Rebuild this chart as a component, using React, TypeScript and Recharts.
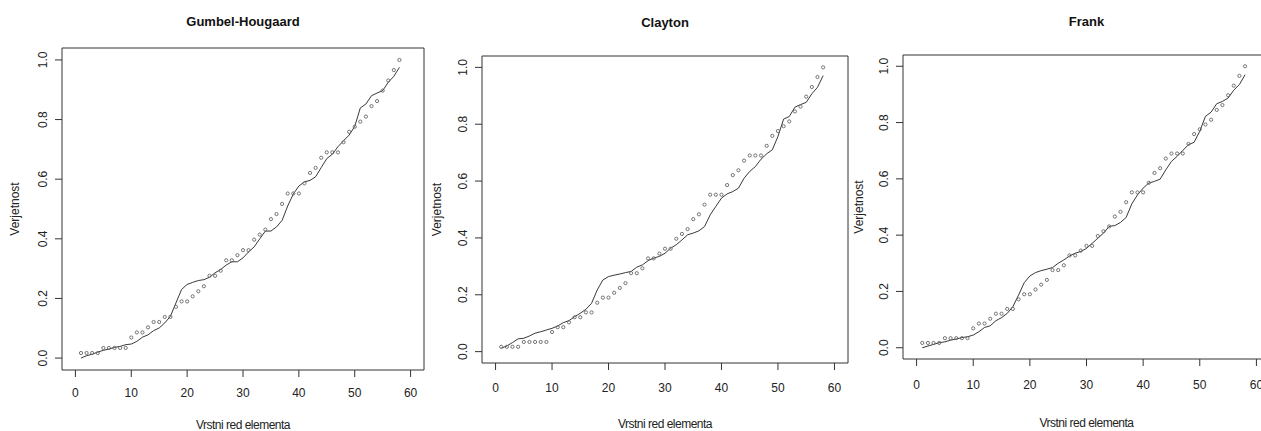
import React from 'react';
import { ComposedChart, Line, Scatter, XAxis, YAxis, ReferenceArea } from 'recharts';

const ranks = [1, 2, 3, 4, 5, 6, 7, 8, 9, 10, 11, 12, 13, 14, 15, 16, 17, 18, 19, 20, 21, 22, 23, 24, 25, 26, 27, 28, 29, 30, 31, 32, 33, 34, 35, 36, 37, 38, 39, 40, 41, 42, 43, 44, 45, 46, 47, 48, 49, 50, 51, 52, 53, 54, 55, 56, 57, 58];

const empirical = [0.017, 0.017, 0.017, 0.017, 0.034, 0.034, 0.034, 0.034, 0.034, 0.069, 0.086, 0.086, 0.103, 0.121, 0.121, 0.138, 0.138, 0.172, 0.19, 0.19, 0.207, 0.224, 0.241, 0.276, 0.276, 0.293, 0.328, 0.328, 0.345, 0.362, 0.362, 0.397, 0.414, 0.431, 0.466, 0.483, 0.517, 0.552, 0.552, 0.552, 0.586, 0.621, 0.638, 0.672, 0.69, 0.69, 0.69, 0.724, 0.759, 0.776, 0.793, 0.81, 0.845, 0.862, 0.897, 0.931, 0.966, 1.0];

const gumbelFit = [0.0, 0.008, 0.013, 0.02, 0.026, 0.03, 0.036, 0.039, 0.045, 0.047, 0.056, 0.07, 0.078, 0.092, 0.101, 0.118, 0.14, 0.185, 0.23, 0.247, 0.254, 0.26, 0.263, 0.271, 0.286, 0.297, 0.312, 0.323, 0.323, 0.336, 0.356, 0.373, 0.4, 0.426, 0.426, 0.44, 0.462, 0.51, 0.55, 0.577, 0.591, 0.596, 0.608, 0.639, 0.669, 0.684, 0.709, 0.729, 0.748, 0.777, 0.839, 0.852, 0.88, 0.889, 0.897, 0.925, 0.945, 0.975];

const claytonFit = [0.012, 0.02, 0.032, 0.045, 0.047, 0.055, 0.065, 0.07, 0.076, 0.082, 0.09, 0.102, 0.109, 0.123, 0.135, 0.149, 0.17, 0.217, 0.252, 0.264, 0.269, 0.273, 0.278, 0.282, 0.297, 0.305, 0.32, 0.329, 0.335, 0.346, 0.364, 0.376, 0.393, 0.411, 0.417, 0.425, 0.44, 0.481, 0.511, 0.54, 0.555, 0.563, 0.575, 0.61, 0.634, 0.651, 0.677, 0.696, 0.71, 0.757, 0.818, 0.827, 0.86, 0.869, 0.877, 0.907, 0.93, 0.971];

const frankFit = [0.0, 0.006, 0.012, 0.018, 0.021, 0.027, 0.031, 0.036, 0.039, 0.045, 0.057, 0.072, 0.078, 0.096, 0.107, 0.122, 0.146, 0.187, 0.231, 0.255, 0.267, 0.274, 0.279, 0.285, 0.3, 0.312, 0.326, 0.336, 0.342, 0.353, 0.371, 0.389, 0.407, 0.431, 0.434, 0.445, 0.463, 0.511, 0.543, 0.567, 0.585, 0.591, 0.599, 0.632, 0.662, 0.68, 0.701, 0.721, 0.73, 0.769, 0.822, 0.837, 0.867, 0.875, 0.887, 0.915, 0.935, 0.97];

const xTicks = [0, 10, 20, 30, 40, 50, 60];
const yTicks = [0, 0.2, 0.4, 0.6, 0.8, 1.0];
const titles = ['Gumbel-Hougaard', 'Clayton', 'Frank'];
const xLabel = 'Vrstni red elementa';
const yLabel = 'Verjetnost';

const FONT = "'Liberation Sans', Arial, Helvetica, sans-serif";
const XDOM: [number, number] = [-2.4, 62.4];
const YDOM: [number, number] = [-0.04, 1.04];

const XTick = (props: any) => {
  const { x, y, payload } = props;
  return (
    <text x={x} y={y} dy="0.71em" textAnchor="middle" fontSize={12} fill="#222" fontFamily={FONT}>
      {payload.value}
    </text>
  );
};

const YTick = (props: any) => {
  const { x, y, payload } = props;
  return (
    <text transform={`translate(${x},${y}) rotate(-90)`} textAnchor="middle" fontSize={12} fill="#222" fontFamily={FONT}>
      {Number(payload.value).toFixed(1)}
    </text>
  );
};

const Dot = (props: any) => {
  const { cx, cy } = props;
  if (cx == null || cy == null) return null;
  return <circle cx={cx} cy={cy} r={1.6} fill="none" stroke="#666" strokeWidth={0.9} />;
};

type PanelProps = {
  fit: number[];
  left: number;
  width: number;
  top: number;
  right: number;
  yAxisWidth: number;
  xAxisHeight: number;
  xTickMargin: number;
};

const Panel = ({ fit, left, width, top, right, yAxisWidth, xAxisHeight, xTickMargin }: PanelProps) => {
  const rows = ranks.map((r, i) => ({ x: r, emp: empirical[i], fit: fit[i] }));
  return (
    <div style={{ position: 'absolute', left, top: 0 }}>
      <ComposedChart width={width} height={431} data={rows} margin={{ top, right, bottom: 0, left: 0 }}>
        <XAxis
          type="number"
          dataKey="x"
          domain={XDOM}
          allowDataOverflow
          ticks={xTicks}
          interval={0}
          axisLine={false}
          tickLine={{ stroke: '#333' }}
          tickSize={7}
          tickMargin={xTickMargin}
          height={xAxisHeight}
          tick={<XTick />}
        />
        <YAxis
          type="number"
          domain={YDOM}
          allowDataOverflow
          ticks={yTicks}
          interval={0}
          axisLine={false}
          tickLine={{ stroke: '#333' }}
          tickSize={7}
          tickMargin={8}
          width={yAxisWidth}
          tick={<YTick />}
        />
        <ReferenceArea x1={XDOM[0]} x2={XDOM[1]} y1={YDOM[0]} y2={YDOM[1]} fill="none" fillOpacity={0} stroke="#333" strokeWidth={1} ifOverflow="visible" />
        <Line type="linear" dataKey="fit" stroke="#222" strokeWidth={0.9} dot={false} activeDot={false} isAnimationActive={false} />
        <Scatter dataKey="emp" shape={<Dot />} isAnimationActive={false} />
      </ComposedChart>
    </div>
  );
};

export default function App() {
  return (
    <div style={{ position: 'absolute', left: 0, top: 0, width: 1261, height: 431, overflow: 'hidden', background: '#fff' }}>
      <Panel fit={gumbelFit} left={0} width={430} top={48} right={6} yAxisWidth={62} xAxisHeight={61} xTickMargin={11} />
      <Panel fit={claytonFit} left={420} width={430} top={56} right={2} yAxisWidth={62} xAxisHeight={68} xTickMargin={13} />
      <Panel fit={frankFit} left={840} width={440} top={55} right={10} yAxisWidth={63} xAxisHeight={72} xTickMargin={14} />
      <svg width={1261} height={431} style={{ position: 'absolute', left: 0, top: 0, pointerEvents: 'none' }}>
        <g fontFamily={FONT} fill="#111">
          <text x={243} y={25.5} textAnchor="middle" fontSize={13} fontWeight="bold">{titles[0]}</text>
          <text x={665} y={27} textAnchor="middle" fontSize={13} fontWeight="bold">{titles[1]}</text>
          <text x={1086.5} y={26} textAnchor="middle" fontSize={13} fontWeight="bold">{titles[2]}</text>
        </g>
        <g fontFamily={FONT} fill="#222" fontSize={12}>
          <text x={243} y={429} textAnchor="middle" letterSpacing={-0.5}>{xLabel}</text>
          <text x={665} y={428} textAnchor="middle" letterSpacing={-0.5}>{xLabel}</text>
          <text x={1086.5} y={426.5} textAnchor="middle" letterSpacing={-0.5}>{xLabel}</text>
          <text transform="translate(19.3,209) rotate(-90)" textAnchor="middle">{yLabel}</text>
          <text transform="translate(441.3,209.5) rotate(-90)" textAnchor="middle">{yLabel}</text>
          <text transform="translate(863,207) rotate(-90)" textAnchor="middle">{yLabel}</text>
        </g>
      </svg>
    </div>
  );
}
